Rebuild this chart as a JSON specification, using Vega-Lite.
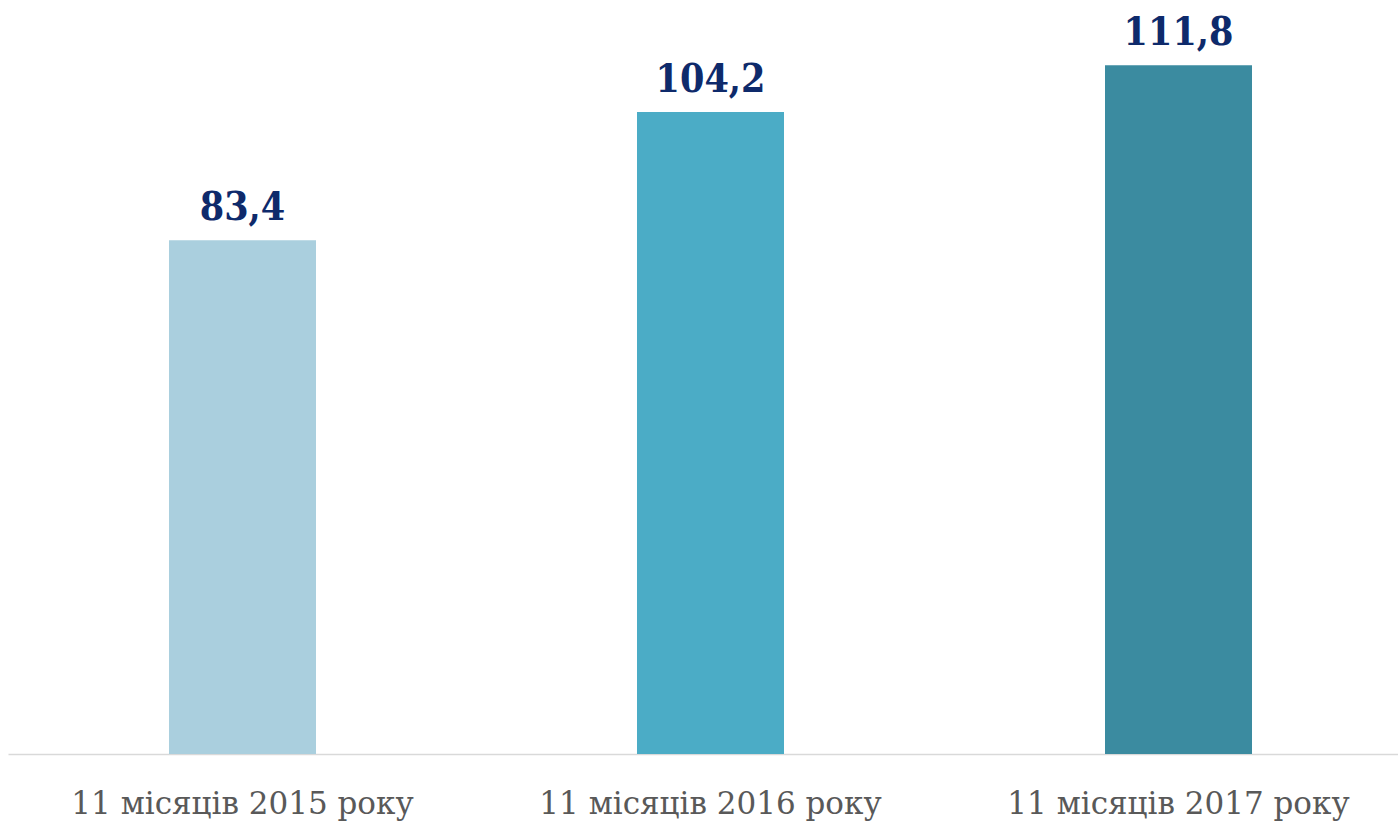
{
  "$schema": "https://vega.github.io/schema/vega-lite/v6.json",
  "width": 1390,
  "height": 754,
  "autosize": {"type": "none"},
  "padding": {"left": 8, "top": 0, "right": 0, "bottom": 67},
  "background": "white",
  "config": {
    "view": {"stroke": null},
    "locale": {"number": {"decimal": ",", "thousands": " ", "grouping": [3], "currency": ["", ""]}}
  },
  "data": {
    "values": [
      {"period": "11 місяців 2015 року", "value": 83.4},
      {"period": "11 місяців 2016 року", "value": 104.2},
      {"period": "11 місяців 2017 року", "value": 111.8}
    ]
  },
  "encoding": {
    "x": {
      "field": "period", "type": "nominal", "sort": null,
      "scale": {"range": [0, 1405], "paddingInner": 0.6859, "paddingOuter": 0.344},
      "axis": {
        "title": null, "labelAngle": 0, "ticks": false, "grid": false,
        "domainColor": "#d9d9d9", "domainWidth": 1.3,
        "labelFont": "DejaVu Serif", "labelFontSize": 31, "labelColor": "#595959",
        "labelBaseline": "alphabetic", "labelPadding": 59, "labelLimit": 0
      }
    },
    "y": {
      "field": "value", "type": "quantitative",
      "scale": {"domain": [0, 122.4], "nice": false, "zero": true},
      "axis": null
    }
  },
  "layer": [
    {
      "mark": {"type": "bar"},
      "encoding": {
        "color": {
          "field": "period", "type": "nominal", "legend": null,
          "scale": {
            "domain": ["11 місяців 2015 року", "11 місяців 2016 року", "11 місяців 2017 року"],
            "range": ["#aacfde", "#4bacc6", "#3b8ba0"]
          }
        }
      }
    },
    {
      "mark": {"type": "text", "font": "DejaVu Serif Condensed", "fontWeight": "bold", "fontSize": 39, "color": "#0e2a6b", "baseline": "alphabetic", "dy": -20},
      "encoding": {
        "text": {"field": "value", "type": "quantitative", "format": ".1f"}
      }
    }
  ]
}
